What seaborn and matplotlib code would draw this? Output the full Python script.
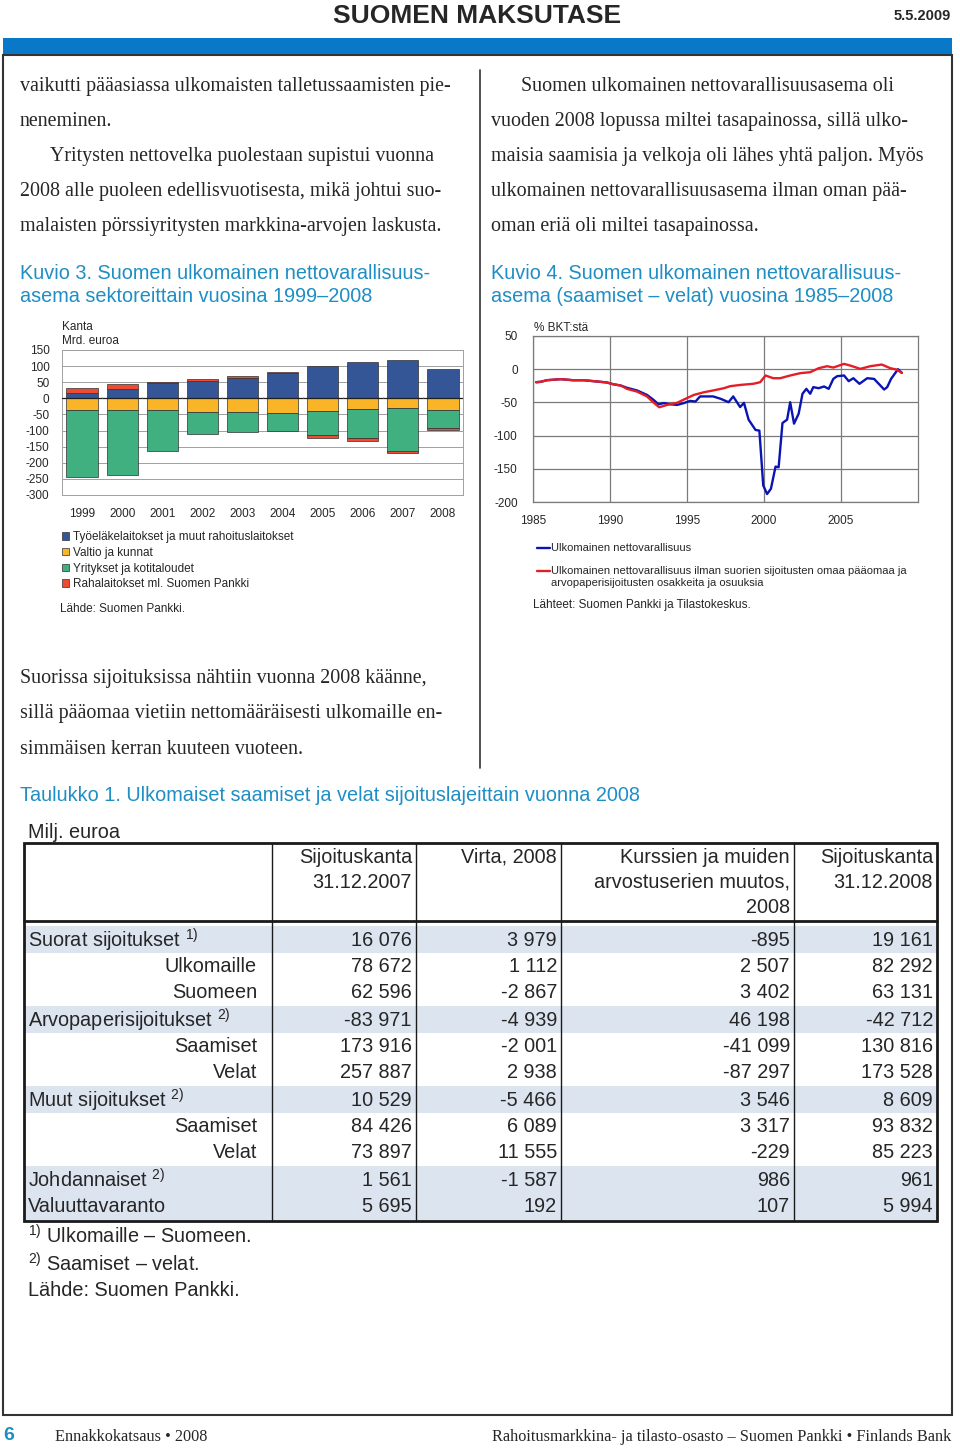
import matplotlib
matplotlib.use("Agg")
import matplotlib.pyplot as plt
from matplotlib.patches import Rectangle
import seaborn as sns
import numpy as np

sns.set_theme(style="white")
plt.rcParams["font.family"] = ["Liberation Sans", "DejaVu Sans"]
plt.rcParams["axes.unicode_minus"] = False
plt.rcParams["mathtext.fontset"] = "custom"
plt.rcParams["mathtext.rm"] = "Liberation Sans"
plt.rcParams["mathtext.it"] = "Liberation Sans:italic"
plt.rcParams["mathtext.bf"] = "Liberation Sans:bold"

# --- Kuvio 3: sectors, bn euro ---
years3 = ["1999", "2000", "2001", "2002", "2003", "2004", "2005", "2006", "2007", "2008"]
tyoelake = [16, 28, 48, 53, 62, 78, 100, 113, 120, 91]
valtio = [-35, -37, -37, -42, -42, -44, -38, -34, -30, -35]
yritykset = [-210, -201, -128, -69, -64, -56, -77, -90, -135, -58]
rahalaitokset = [15, 15, 2, 6, 6, 5, -7, -9, -4, -6]
labels3 = ["Työeläkelaitokset ja muut rahoituslaitokset", "Valtio ja kunnat",
           "Yritykset ja kotitaloudet", "Rahalaitokset ml. Suomen Pankki"]
colors3 = ["#345596", "#F9B428", "#40B080", "#EE4B30"]

# --- Kuvio 4: % of GDP ---
blue_years = [1985.2, 1985.5, 1985.9, 1986.8, 1987.6, 1988.3, 1989.2, 1989.8, 1990.2, 1990.7,
              1991.1, 1991.75, 1992.4, 1992.8, 1993.15, 1993.5, 1993.9, 1994.35, 1994.8, 1995.2,
              1995.55, 1995.85, 1996.7, 1997.2, 1997.7, 1998.0, 1998.45, 1998.7, 1999.0, 1999.45,
              1999.7, 1999.95, 2000.2, 2000.45, 2000.75, 2000.95, 2001.2, 2001.5, 2001.7, 2001.95,
              2002.25, 2002.5, 2002.75, 2003.0, 2003.2, 2003.55, 2003.9, 2004.2, 2004.5, 2004.75,
              2005.2, 2005.5, 2005.8, 2006.2, 2006.7, 2007.15, 2007.8, 2008.0, 2008.25, 2008.7,
              2008.95]
blue_vals = [-19.6, -19, -16.6, -15, -16.6, -16.6, -18.6, -20, -22.6, -24.6,
             -28, -32, -38.7, -45.7, -52.8, -51, -52.8, -53.8, -51, -47.7,
             -48.7, -41, -41, -44.7, -49.7, -41, -57, -50.7, -76, -91.5,
             -92.5, -175, -188, -180, -146.7, -147.7, -81, -76, -49.7, -82,
             -67, -37, -29.6, -37, -27, -28.6, -26, -29.6, -14.6, -10.5,
             -9.5, -18, -13.6, -22, -13.6, -14.6, -30.6, -27, -14.6, 0,
             -5.5]
red_years = [1985.2, 1985.5, 1985.9, 1986.8, 1987.6, 1988.3, 1989.2, 1989.8, 1990.2, 1990.7,
             1991.1, 1991.75, 1992.4, 1992.8, 1993.2, 1993.7, 1994.35, 1994.8, 1995.45, 1996.1,
             1996.7, 1997.4, 1997.8, 1998.5, 1999.3, 1999.75, 2000.1, 2000.6, 2001.05, 2001.7,
             2002.35, 2003.0, 2003.55, 2004.1, 2004.5, 2005.2, 2005.6, 2006.25, 2006.9, 2007.65,
             2008.2, 2008.6, 2008.95]
red_vals = [-19.6, -19, -16.6, -15, -16.6, -16.6, -18.6, -20, -22.6, -24.6,
            -29.6, -33.7, -41, -49.7, -57.3, -53.8, -50.7, -45.7, -38.7, -34.7,
            -32, -28.6, -25.6, -23.6, -22, -19.6, -9.5, -13.6, -13.6, -9.5,
            -6, -4.5, 1.5, 4.5, 2.5, 8, 5.5, 0.5, 4.5, 7,
            1.5, -0.5, -5.5]
label_blue = "Ulkomainen nettovarallisuus"
label_red = ("Ulkomainen nettovarallisuus ilman suorien sijoitusten omaa pääomaa ja\n"
             "arvopaperisijoitusten osakkeita ja osuuksia")

# --- Taulukko 1 ---
row_labels = ["Suorat sijoitukset $^{1)}$", "Ulkomaille", "Suomeen",
              "Arvopaperisijoitukset $^{2)}$", "Saamiset", "Velat",
              "Muut sijoitukset $^{2)}$", "Saamiset", "Velat",
              "Johdannaiset $^{2)}$", "Valuuttavaranto"]
row_is_sub = [False, True, True, False, True, True, False, True, True, False, False]
row_shaded = [True, False, False, True, False, False, True, False, False, True, True]
kanta_2007 = [16076, 78672, 62596, -83971, 173916, 257887, 10529, 84426, 73897, 1561, 5695]
virta_2008 = [3979, 1112, -2867, -4939, -2001, 2938, -5466, 6089, 11555, -1587, 192]
muutos_2008 = [-895, 2507, 3402, 46198, -41099, -87297, 3546, 3317, -229, 986, 107]
kanta_2008 = [19161, 82292, 63131, -42712, 130816, 173528, 8609, 93832, 85223, 961, 5994]
col_headers = [["Sijoituskanta", "31.12.2007"], ["Virta, 2008"],
               ["Kurssien ja muiden", "arvostuserien muutos,", "2008"],
               ["Sijoituskanta", "31.12.2008"]]

W, H = 960, 1450
fig = plt.figure(figsize=(9.6, 14.5), dpi=100)


def box(x0, y0, x1, y1):
    return fig.add_axes([x0 / W, 1 - y1 / H, (x1 - x0) / W, (y1 - y0) / H])


pg = box(0, 0, W, H)
pg.set_xlim(0, W)
pg.set_ylim(H, 0)
pg.axis("off")

SERIF = ["Liberation Serif", "DejaVu Serif"]
HEAD = "#1E8EC4"
body = 14.4

# header
pg.text(477, 16, "SUOMEN MAKSUTASE", ha="center", va="center", fontsize=19, fontweight="bold")
pg.text(951, 16, "5.5.2009", ha="right", va="center", fontsize=10.5, fontweight="bold")
pg.add_patch(Rectangle((3, 38), 949, 17, color="#0A78C8", lw=0))
pg.add_patch(Rectangle((3, 55), 949, 1360, fill=False, ec="#333333", lw=1.5))
pg.plot([480, 480], [70, 768], color="#333333", lw=1.2)

left_lines = ["vaikutti pääasiassa ulkomaisten talletussaamisten pie-",
              "neneminen.",
              "Yritysten nettovelka puolestaan supistui vuonna",
              "2008 alle puoleen edellisvuotisesta, mikä johtui suo-",
              "malaisten pörssiyritysten markkina-arvojen laskusta."]
right_lines = ["Suomen ulkomainen nettovarallisuusasema oli",
               "vuoden 2008 lopussa miltei tasapainossa, sillä ulko-",
               "maisia saamisia ja velkoja oli lähes yhtä paljon. Myös",
               "ulkomainen nettovarallisuusasema ilman oman pää-",
               "oman eriä oli miltei tasapainossa."]
for i, t in enumerate(left_lines):
    pg.text(50 if i == 2 else 20, 86 + 35 * i, t, va="center", fontsize=body, family=SERIF)
for i, t in enumerate(right_lines):
    pg.text(521 if i == 0 else 491, 86 + 35 * i, t, va="center", fontsize=body, family=SERIF)

pg.text(20, 273, "Kuvio 3. Suomen ulkomainen nettovarallisuus-", va="center", fontsize=14.3, color=HEAD)
pg.text(20, 296, "asema sektoreittain vuosina 1999–2008", va="center", fontsize=14.3, color=HEAD)
pg.text(491, 273, "Kuvio 4. Suomen ulkomainen nettovarallisuus-", va="center", fontsize=14.3, color=HEAD)
pg.text(491, 296, "asema (saamiset – velat) vuosina 1985–2008", va="center", fontsize=14.3, color=HEAD)

# ---------- Kuvio 3 ----------
ax3 = box(62, 350, 463, 495)
x = np.arange(len(years3))
ty = np.array(tyoelake)
va_ = np.array(valtio)
yr = np.array(yritykset)
ra = np.array(rahalaitokset)
bar_kw = dict(width=0.78, edgecolor="#303030", linewidth=0.5, zorder=3)
h1 = ax3.bar(x, ty, color=colors3[0], **bar_kw)
h2 = ax3.bar(x, va_, color=colors3[1], **bar_kw)
h3 = ax3.bar(x, yr, bottom=va_, color=colors3[2], **bar_kw)
h4 = ax3.bar(x, ra, bottom=np.where(ra > 0, ty, va_ + yr), color=colors3[3], **bar_kw)
ax3.axhline(0, color="#202020", lw=0.9, zorder=4)
ax3.vlines(x[:-1] + 0.5, 0, 4, color="#888888", lw=0.8, zorder=4)
ax3.set_xlim(-0.5, len(years3) - 0.5)
ax3.set_ylim(-300, 150)
ax3.set_yticks(range(-300, 151, 50))
ax3.set_xticks(x)
ax3.set_xticklabels(years3)
ax3.yaxis.grid(True, color="#a0a0a0", lw=0.7)
ax3.set_axisbelow(True)
ax3.tick_params(axis="y", length=0, pad=9, labelsize=8.5)
ax3.tick_params(axis="x", length=0, pad=9.5, labelsize=8.5)
for s in ax3.spines.values():
    s.set_color("#a0a0a0")
    s.set_linewidth(0.7)
pg.text(62, 327, "Kanta", va="center", fontsize=8.5)
pg.text(62, 341, "Mrd. euroa", va="center", fontsize=8.5)
fig.legend([h1, h2, h3, h4], labels3, loc="upper left",
           bbox_to_anchor=(62 / W, 1 - 531 / H), frameon=False, fontsize=8.5,
           handlelength=0.6, handleheight=0.6, handletextpad=0.3, labelspacing=0.32,
           borderpad=0, borderaxespad=0)
pg.text(60, 609, "Lähde: Suomen Pankki.", va="center", fontsize=8.5)

# ---------- Kuvio 4 ----------
ax4 = box(533, 336, 918, 502)
sns.lineplot(x=blue_years, y=blue_vals, ax=ax4, color="#0A14B4", lw=1.7)
sns.lineplot(x=red_years, y=red_vals, ax=ax4, color="#E41E26", lw=1.7)
ax4.set_xlim(1985, 2010)
ax4.set_ylim(-200, 50)
ax4.set_xticks([1985, 1990, 1995, 2000, 2005])
ax4.set_yticks(range(-200, 51, 50))
ax4.grid(True, color="#7a7a7a", lw=0.9)
ax4.set_axisbelow(True)
ax4.set_xlabel("")
ax4.set_ylabel("")
ax4.tick_params(axis="y", length=0, pad=11, labelsize=8.5)
ax4.tick_params(axis="x", length=0, pad=9.5, labelsize=8.5)
for s in ax4.spines.values():
    s.set_color("#7a7a7a")
    s.set_linewidth(0.9)
# legend drawn under the chart, red key aligned with the first text line
l_blue, l_red = ax4.get_lines()[:2]
for yk, line, lab in [(548, l_blue, label_blue), (571, l_red, label_red)]:
    pg.plot([537, 550], [yk, yk], color=line.get_color(), lw=1.7)
    pg.text(551, yk - 5, lab, va="top", fontsize=8, linespacing=1.3)
pg.text(534, 328, "% BKT:stä", va="center", fontsize=8.5)
pg.text(533, 605, "Lähteet: Suomen Pankki ja Tilastokeskus.", va="center", fontsize=8.5)

# ---------- lower text ----------
low_lines = ["Suorissa sijoituksissa nähtiin vuonna 2008 käänne,",
             "sillä pääomaa vietiin nettomääräisesti ulkomaille en-",
             "simmäisen kerran kuuteen vuoteen."]
for i, t in enumerate(low_lines):
    pg.text(20, 678 + 35.5 * i, t, va="center", fontsize=body, family=SERIF)

pg.text(20, 795, "Taulukko 1. Ulkomaiset saamiset ja velat sijoituslajeittain vuonna 2008",
        va="center", fontsize=14.3, color=HEAD)
pg.text(28, 832, "Milj. euroa", va="center", fontsize=14.3)

# ---------- table ----------
tab = 14.3
col_x = [24, 272, 416, 561, 794, 937]
row_y = [940, 966, 992, 1020, 1046, 1072, 1100, 1126, 1152, 1180, 1207]
for yc, sh in zip(row_y, row_shaded):
    if sh:
        pg.add_patch(Rectangle((col_x[0], yc - 14), col_x[-1] - col_x[0], 27,
                               color="#DCE4EF", lw=0, zorder=0))
pg.add_patch(Rectangle((col_x[0], 843), col_x[-1] - col_x[0], 378, fill=False,
                       ec="#1a1a1a", lw=2, zorder=3))
pg.plot([col_x[0], col_x[-1]], [921, 921], color="#1a1a1a", lw=2, zorder=3)
for cx in col_x[1:-1]:
    pg.plot([cx, cx], [843, 1221], color="#1a1a1a", lw=1, zorder=3)
for j, hdr in enumerate(col_headers):
    for k, t in enumerate(hdr):
        pg.text(col_x[j + 2] - 4, 857 + 25 * k, t, ha="right", va="center", fontsize=tab)

cols = [kanta_2007, virta_2008, muutos_2008, kanta_2008]


def fmt(v):
    return f"{v:,}".replace(",", " ")


for i, yc in enumerate(row_y):
    if row_is_sub[i]:
        pg.text(257, yc, row_labels[i], ha="right", va="center", fontsize=tab)
    else:
        pg.text(28, yc, row_labels[i], ha="left", va="center", fontsize=tab)
    for j, c in enumerate(cols):
        pg.text(col_x[j + 2] - 4, yc, fmt(c[i]), ha="right", va="center", fontsize=tab)

pg.text(28, 1236, "$^{1)}$ Ulkomaille – Suomeen.", va="center", fontsize=tab)
pg.text(28, 1264, "$^{2)}$ Saamiset – velat.", va="center", fontsize=tab)
pg.text(28, 1290, "Lähde: Suomen Pankki.", va="center", fontsize=tab)

# ---------- footer ----------
pg.text(3, 1436, "6", va="center", fontsize=14, fontweight="bold", color="#1E8EC4")
pg.text(55, 1437, "Ennakkokatsaus • 2008", va="center", fontsize=11.7, family=SERIF)
pg.text(951, 1437, "Rahoitusmarkkina- ja tilasto-osasto – Suomen Pankki • Finlands Bank",
        ha="right", va="center", fontsize=11.7, family=SERIF)

fig.savefig("out.png", dpi=100)
